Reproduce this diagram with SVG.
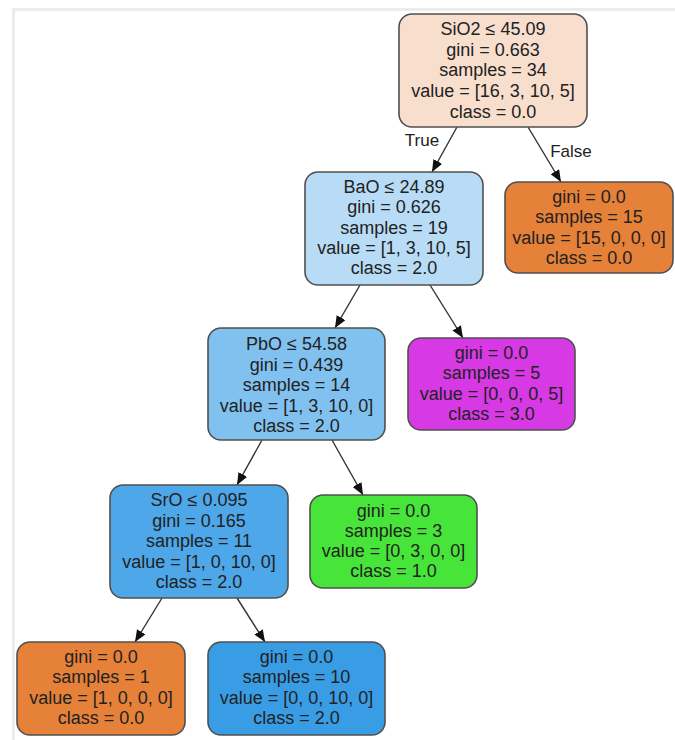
<svg xmlns="http://www.w3.org/2000/svg" width="675" height="740" viewBox="0 0 675 740">
<defs>
<marker id="ah" viewBox="0 0 12 10" refX="12" refY="5" markerWidth="12" markerHeight="10" markerUnits="userSpaceOnUse" orient="auto">
<path d="M0,0 L12,5 L0,10 Z" fill="#111"/>
</marker>
<style>
.n rect{stroke:#505050;stroke-width:1.6}
text{font-family:"Liberation Sans",Arial,Helvetica,sans-serif;font-size:18px;fill:#222;text-anchor:middle}
.e line{stroke:#333;stroke-width:1.4;marker-end:url(#ah)}
.lbl{font-size:17px}
</style>
</defs>
<rect width="675" height="740" fill="#fff"/>
<line x1="12" y1="9.5" x2="675" y2="9.5" stroke="#ececec" stroke-width="3"/>
<line x1="13.5" y1="8" x2="13.5" y2="740" stroke="#ececec" stroke-width="3"/>
<g id="edges" class="e">
<line x1="457" y1="127" x2="432" y2="172"/>
<line x1="528" y1="127" x2="561" y2="182"/>
<line x1="360" y1="285" x2="335" y2="328"/>
<line x1="430" y1="285" x2="463" y2="338"/>
<line x1="262" y1="440" x2="237" y2="485"/>
<line x1="332" y1="440" x2="363" y2="495"/>
<line x1="162" y1="598" x2="135" y2="642"/>
<line x1="237" y1="598" x2="265" y2="642"/>
<text class="lbl" x="422" y="146">True</text>
<text class="lbl" x="571" y="157">False</text>
</g>
<g id="root" class="n">
<rect x="399" y="14" width="188" height="113" rx="13" fill="#f8dfcd"/>
<text x="493" y="35">SiO2 ≤ 45.09</text>
<text x="493" y="55.5">gini = 0.663</text>
<text x="493" y="76">samples = 34</text>
<text x="493" y="97">value = [16, 3, 10, 5]</text>
<text x="493" y="118">class = 0.0</text>
</g>
<g id="bao" class="n">
<rect x="305" y="172" width="178" height="113" rx="13" fill="#b8dcf6"/>
<text x="394" y="193">BaO ≤ 24.89</text>
<text x="394" y="213">gini = 0.626</text>
<text x="394" y="233.5">samples = 19</text>
<text x="394" y="254">value = [1, 3, 10, 5]</text>
<text x="394" y="274">class = 2.0</text>
</g>
<g id="leaf0a" class="n">
<rect x="505" y="182" width="168" height="91" rx="13" fill="#e58139"/>
<text x="589" y="203">gini = 0.0</text>
<text x="589" y="223">samples = 15</text>
<text x="589" y="243.5">value = [15, 0, 0, 0]</text>
<text x="589" y="263.5">class = 0.0</text>
</g>
<g id="pbo" class="n">
<rect x="208" y="328" width="177" height="112" rx="13" fill="#81c1ef"/>
<text x="296.5" y="350">PbO ≤ 54.58</text>
<text x="296.5" y="370.5">gini = 0.439</text>
<text x="296.5" y="391">samples = 14</text>
<text x="296.5" y="411.5">value = [1, 3, 10, 0]</text>
<text x="296.5" y="432">class = 2.0</text>
</g>
<g id="leaf3" class="n">
<rect x="408" y="338" width="167" height="92" rx="13" fill="#d739e5"/>
<text x="491.5" y="358.5">gini = 0.0</text>
<text x="491.5" y="379">samples = 5</text>
<text x="491.5" y="399.5">value = [0, 0, 0, 5]</text>
<text x="491.5" y="420">class = 3.0</text>
</g>
<g id="sro" class="n">
<rect x="110" y="485" width="178" height="113" rx="13" fill="#4da7e8"/>
<text x="199" y="506">SrO ≤ 0.095</text>
<text x="199" y="526.5">gini = 0.165</text>
<text x="199" y="547">samples = 11</text>
<text x="199" y="567.5">value = [1, 0, 10, 0]</text>
<text x="199" y="588">class = 2.0</text>
</g>
<g id="leaf1" class="n">
<rect x="310" y="495" width="167" height="93" rx="13" fill="#47e539"/>
<text x="393.5" y="516.5">gini = 0.0</text>
<text x="393.5" y="536.5">samples = 3</text>
<text x="393.5" y="557">value = [0, 3, 0, 0]</text>
<text x="393.5" y="577">class = 1.0</text>
</g>
<g id="leaf0b" class="n">
<rect x="17" y="642" width="168" height="93" rx="13" fill="#e58139"/>
<text x="101" y="663">gini = 0.0</text>
<text x="101" y="683">samples = 1</text>
<text x="101" y="703.5">value = [1, 0, 0, 0]</text>
<text x="101" y="723.5">class = 0.0</text>
</g>
<g id="leaf2" class="n">
<rect x="208" y="642" width="177" height="93" rx="13" fill="#399de5"/>
<text x="296.5" y="663">gini = 0.0</text>
<text x="296.5" y="683">samples = 10</text>
<text x="296.5" y="703.5">value = [0, 0, 10, 0]</text>
<text x="296.5" y="723.5">class = 2.0</text>
</g>
</svg>
